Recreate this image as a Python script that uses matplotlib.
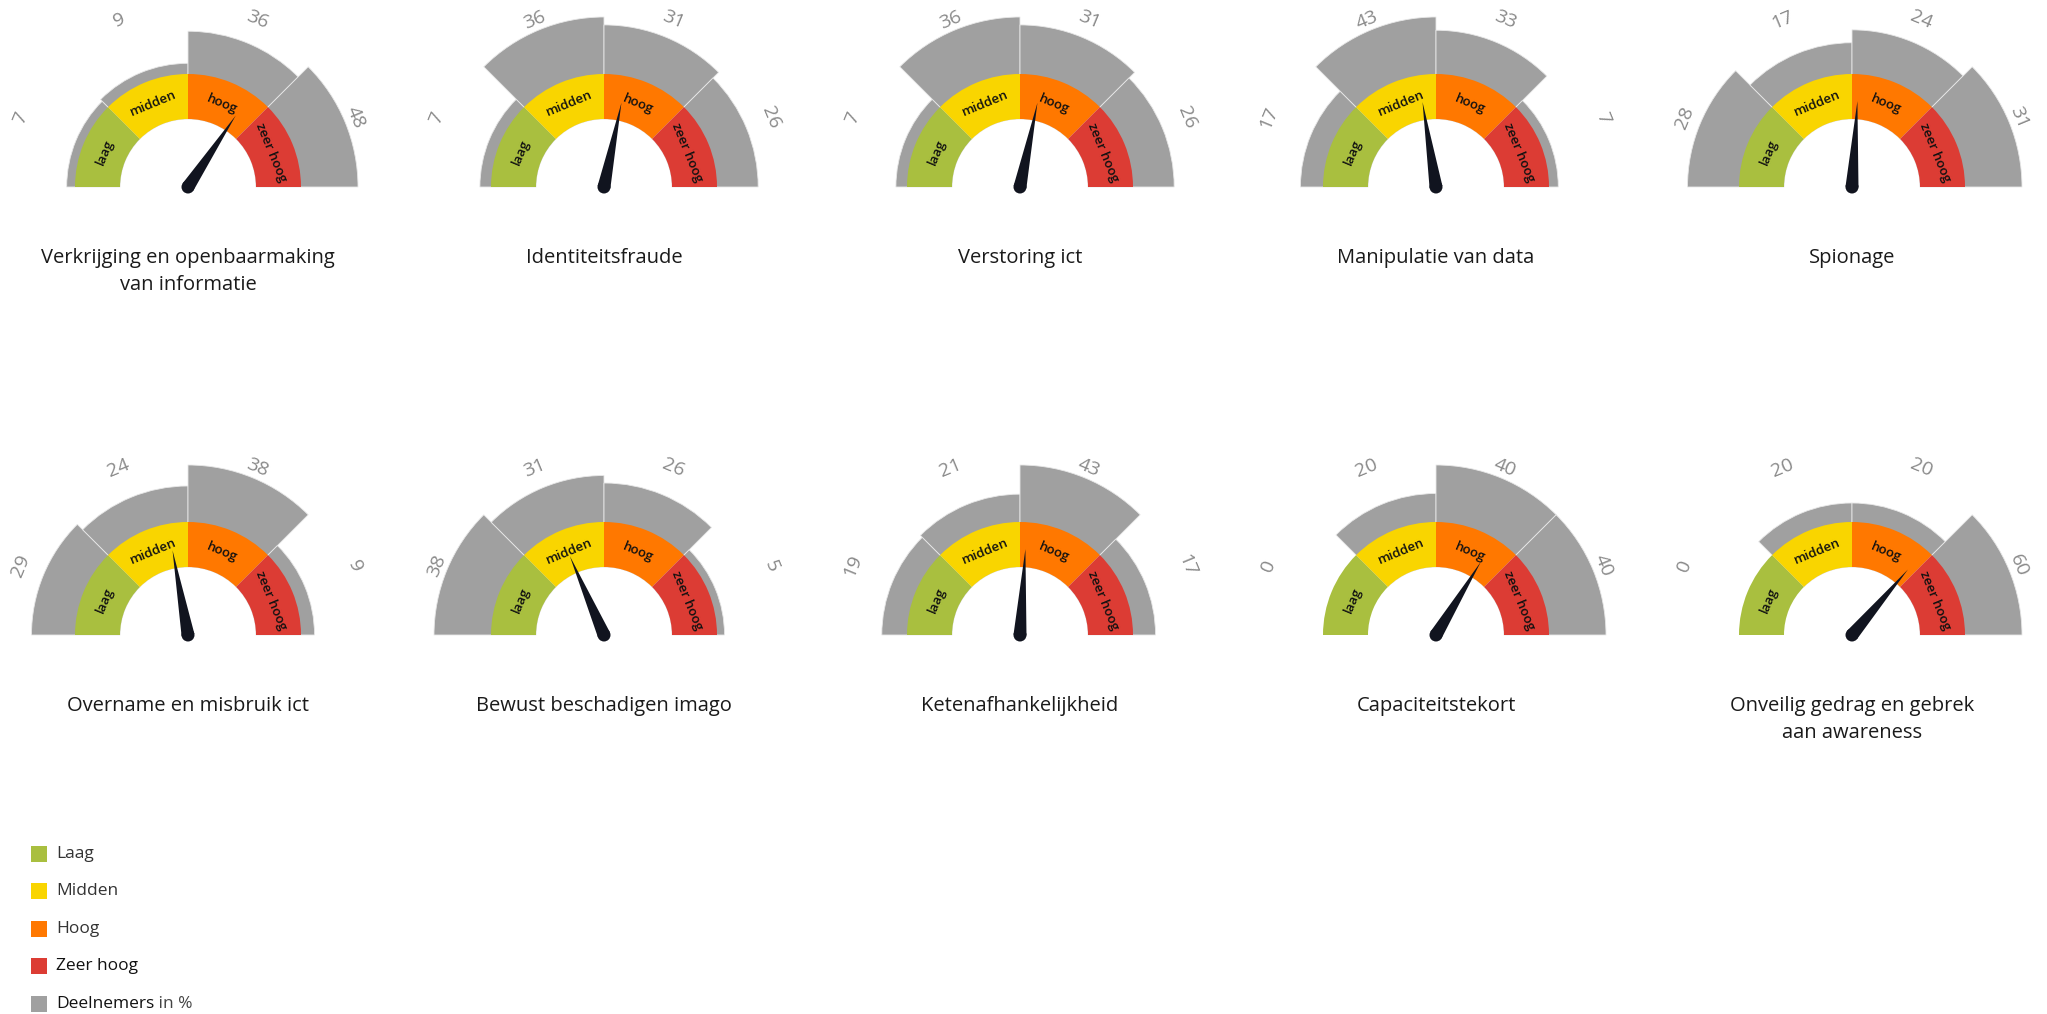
import numpy as np
import matplotlib
matplotlib.use("Agg")
import matplotlib.pyplot as plt
from matplotlib.patches import Wedge, Circle, Polygon, Rectangle

plt.rcParams['font.family'] = ['Open Sans', 'DejaVu Sans']

# data (deelnemers in %, per niveau: laag, midden, hoog, zeer hoog)
titels = ["Verkrijging en openbaarmaking\nvan informatie", "Identiteitsfraude",
          "Verstoring ict", "Manipulatie van data", "Spionage",
          "Overname en misbruik ict", "Bewust beschadigen imago",
          "Ketenafhankelijkheid", "Capaciteitstekort",
          "Onveilig gedrag en gebrek\naan awareness"]
laag = [7, 7, 7, 17, 28, 29, 38, 19, 0, 0]
midden = [9, 36, 36, 43, 17, 24, 31, 21, 20, 20]
hoog = [36, 31, 31, 33, 24, 38, 26, 43, 40, 20]
zeer_hoog = [48, 26, 26, 7, 31, 9, 5, 17, 40, 60]
niveaus = ["laag", "midden", "hoog", "zeer hoog"]
legenda = ["Laag", "Midden", "Hoog", "Zeer hoog"]

kleuren = ['#a9bf3f', '#f9d500', '#ff7800', '#dc3c34']
grijs = '#a0a0a0'
naald = '#11141f'

W, H = 2047, 1014
fig = plt.figure(figsize=(W / 100, H / 100), dpi=100)
ax = fig.add_axes([0, 0, 1, 1])
ax.set_xlim(0, W)
ax.set_ylim(0, H)
ax.axis('off')

r_in, r_band, r_max = 68, 113, 170
r_lbl = 181

for i, titel in enumerate(titels):
    cx = 188 + 416 * (i % 5)
    cy = H - (187 if i < 5 else 635)
    waarden = [laag[i], midden[i], hoog[i], zeer_hoog[i]]
    vmax = max(waarden)
    for k, v in enumerate(waarden):
        t1, t2 = 180 - 45 * (k + 1), 180 - 45 * k
        mid = (t1 + t2) / 2
        if v > 0:
            rg = r_band + (r_max - r_band) * v / vmax
            ax.add_patch(Wedge((cx, cy), rg, t1, t2, width=rg - r_in,
                               facecolor=grijs, edgecolor='#e8e8e8', lw=0.6, zorder=1))
        ax.add_patch(Wedge((cx, cy), r_band, t1, t2, width=r_band - r_in,
                           facecolor=kleuren[k], edgecolor='none', zorder=2))
        a = np.radians(mid)
        ax.text(cx + 90 * np.cos(a), cy + 90 * np.sin(a), niveaus[k],
                rotation=mid - 90, ha='center', va='center', fontsize=9.5,
                fontweight='semibold', color='#111111', zorder=3,
                rotation_mode='anchor')
        ax.text(cx + r_lbl * np.cos(a), cy + r_lbl * np.sin(a), str(v),
                rotation=mid - 90, ha='center', va='center', fontsize=14,
                color='#8a8a8a', rotation_mode='anchor')
    # naald: gewogen gemiddelde van de sectormiddens
    hoek = 180 - sum(v * (22.5 + 45 * k) for k, v in enumerate(waarden)) / sum(waarden)
    a = np.radians(hoek)
    tip = (cx + 86 * np.cos(a), cy + 86 * np.sin(a))
    px, py = -np.sin(a) * 6.5, np.cos(a) * 6.5
    ax.add_patch(Polygon([(cx + px, cy + py), tip, (cx - px, cy - py)],
                         closed=True, facecolor=naald, edgecolor='none', zorder=4))
    ax.add_patch(Circle((cx, cy), 6.5, facecolor=naald, edgecolor='none', zorder=4))
    for j, regel in enumerate(titel.split("\n")):
        ax.text(cx, cy - 76 - 27 * j, regel, ha='center', va='baseline',
                fontsize=14.5, color='#1a1a1a')

# legenda
ys = [854, 891, 929, 966, 1004]
for k, lab in enumerate(legenda + ["Deelnemers"]):
    kl = kleuren[k] if k < 4 else grijs
    ax.add_patch(Rectangle((31, H - ys[k] - 8), 16, 16, facecolor=kl, edgecolor='none'))
    t = ax.text(56, H - ys[k], lab, ha='left', va='center', fontsize=12.5,
                color='#111111' if k >= 3 else '#333333')
    if k == 4:
        fig.canvas.draw()
        bb = t.get_window_extent()
        ax.text(bb.x1, H - ys[k], " in %", ha='left', va='center', fontsize=12.5,
                color='#444444')

fig.savefig("out.png", dpi=100)
